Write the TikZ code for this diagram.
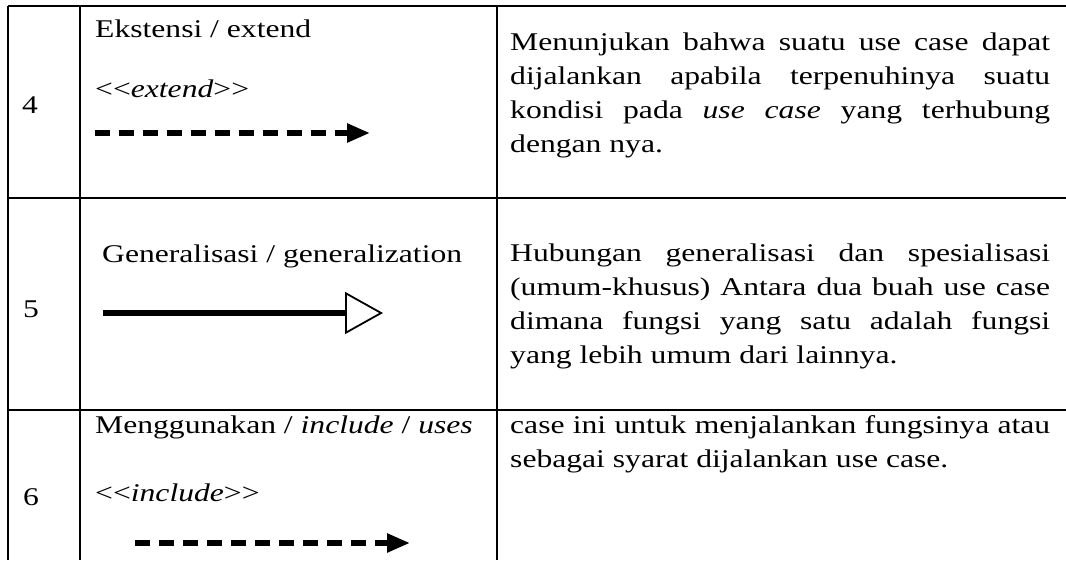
\documentclass[tikz,border=0pt]{standalone}
\usepackage{fontspec}
\setmainfont{Liberation Serif}[FakeStretch=1.24]
\usetikzlibrary{arrows.meta}
\newcommand{\dblt}{<\kern0pt<}
\newcommand{\dbgt}{>\kern0pt>}
\begin{document}
\begin{tikzpicture}[x=1pt,y=-1pt,
  rule/.style={line width=2.4pt},
  txt/.style={inner sep=0pt, font=\fontsize{25.5}{34}\selectfont},
  cell/.style={txt, anchor=base west},
  num/.style={txt, anchor=base},
  desc/.style={txt, anchor=base west, text width=540pt, align=justify},
  dasharrow/.style={line width=5.5pt, dash pattern=on 15pt off 9pt,
    -{Triangle[length=23pt,width=18pt]}},
  genarrow/.style={line width=5.5pt,
    -{Triangle[open,length=38pt,width=42pt,line width=1.8pt]}}
]
\useasboundingbox (0,0) rectangle (1066,560);

% table grid (open on the right and at the bottom)
\draw[rule] (8,6) -- (1066,6);
\draw[rule] (8,198) -- (1066,198);
\draw[rule] (8,410) -- (1066,410);
\draw[rule] (8,6) -- (8,560);
\draw[rule] (80,6) -- (80,560);
\draw[rule] (497,6) -- (497,560);

% row 4: extend
\node[num] (n4) at (30,113) {4};
\node[cell] (t4a) at (95,37) {Ekstensi / extend};
\node[cell] (t4b) at (95,97) {\dblt\textit{extend}\dbgt};
\coordinate (a4s) at (95,133);
\coordinate (a4e) at (370,133);
\draw[dasharrow] (a4s) -- (a4e);
\node[desc] (d4) at (510,50) {Menunjukan bahwa suatu use case dapat\linebreak
dijalankan apabila terpenuhinya suatu\linebreak
kondisi pada \textit{use case} yang terhubung\linebreak
dengan nya.};

% row 5: generalization
\node[num] (n5) at (31,317) {5};
\node[cell] (t5a) at (102,262) {Generalisasi / generalization};
\coordinate (a5s) at (103,313);
\coordinate (a5e) at (383,313);
\draw[genarrow] (a5s) -- (a5e);
\node[desc] (d5) at (510,261) {Hubungan generalisasi dan spesialisasi\linebreak
(umum-khusus) Antara dua buah use case\linebreak
dimana fungsi yang satu adalah fungsi\linebreak
yang lebih umum dari lainnya.};

% row 6: include
\node[num] (n6) at (31,505) {6};
\node[cell] (t6a) at (95,433) {Menggunakan / \textit{include} / \textit{uses}};
\node[cell] (t6b) at (95,501) {\dblt\textit{include}\dbgt};
\coordinate (a6s) at (135,543);
\coordinate (a6e) at (410,543);
\draw[dasharrow] (a6s) -- (a6e);
\node[desc] (d6) at (510,433) {case ini untuk menjalankan fungsinya atau\linebreak
sebagai syarat dijalankan use case.};
\end{tikzpicture}
\end{document}
